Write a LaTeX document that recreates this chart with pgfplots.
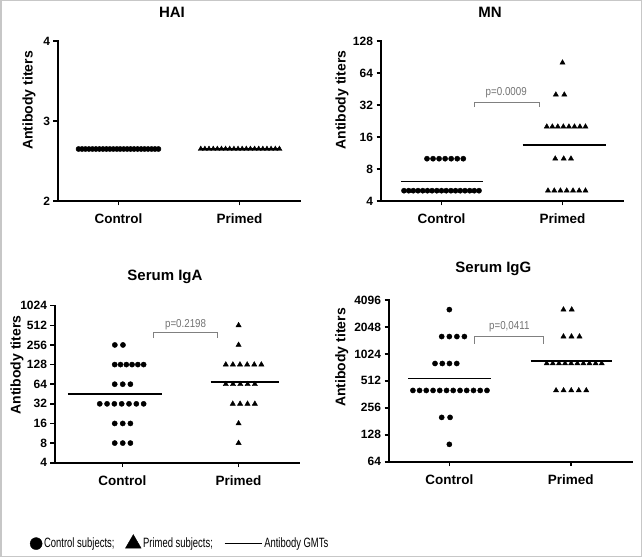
\documentclass[border=0pt]{standalone}
\usepackage{fontspec}
\setmainfont{Liberation Sans}
\usepackage{graphicx}
\usepackage{pgfplots}
\pgfplotsset{compat=1.18}
\pgfplotsset{
 panel/.style={
  scale only axis,
  axis x line*=bottom, axis y line*=left,
  x axis line style={-}, y axis line style={-},
  tick style={black, line width=1.6pt},
  major tick length=4.5pt,
  tick align=outside,
  xmin=-0.5, xmax=1.5,
  xtick={0,1}, xticklabels={Control,Primed},
  x tick label style={font=\bfseries\fontsize{13.5}{15}\selectfont, yshift=-5pt},
  y tick label style={font=\bfseries\fontsize{12}{13}\selectfont},
  ylabel={Antibody titers},
  ylabel style={font=\bfseries\fontsize{14}{16}\selectfont, anchor=center},
  title style={font=\bfseries\fontsize{15}{17}\selectfont, anchor=center},
  clip=false,
  /pgf/number format/assume math mode=true,
 },
 ctrl/.style={only marks, mark=*, mark size=2.6pt, black, mark options={line width=0.4pt}},
 prim/.style={only marks, mark=triangle*, mark size=3pt, black, mark options={line width=0.4pt}},
 gmt/.style={black, line width=1.7pt, no marks},
 br/.style={gray, line width=0.7pt, no marks},
 gmtleg/.style={legend image code/.code={\draw[black, line width=1.3pt] (0pt,0pt) -- (37pt,0pt);}},
}
\tikzset{pv/.style={gray!90!black, font=\fontsize{11.5}{12}\selectfont},
  axl/.style={black, line width=2pt, line cap=rect}}
\begin{document}
\begin{tikzpicture}
\path[use as bounding box] (0pt,0pt) rectangle (643pt,558pt);
\draw[black!22, line width=1.5pt] (0.75pt,1.5pt) rectangle (641.5pt,557.25pt);

% HAI
\begin{axis}[panel, at={(58pt,357pt)}, anchor=south west, width=242pt, height=160pt,
  ymin=2, ymax=4, ytick={2,3,4},
  title={HAI}, title style={at={(axis description cs:0.5,1)}, yshift=23pt, xshift=-7pt},
  ylabel style={at={(axis description cs:-0.12,0.628)}}]
\draw[axl] (rel axis cs:0,1) -- (rel axis cs:0,0) -- (rel axis cs:1,0);
\addplot[gmt] coordinates {(-0.33,2.65) (0.33,2.65)};
\addplot[gmt] coordinates {(0.68,2.65) (1.33,2.65)};
\addplot[ctrl] coordinates {(-0.33,2.65)(-0.301,2.65)(-0.273,2.65)(-0.244,2.65)(-0.215,2.65)(-0.187,2.65)(-0.158,2.65)(-0.129,2.65)(-0.100,2.65)(-0.072,2.65)(-0.043,2.65)(-0.014,2.65)(0.014,2.65)(0.043,2.65)(0.072,2.65)(0.100,2.65)(0.129,2.65)(0.158,2.65)(0.187,2.65)(0.215,2.65)(0.244,2.65)(0.273,2.65)(0.301,2.65)(0.33,2.65)};
\addplot[prim] coordinates {(0.68,2.65)(0.714,2.65)(0.748,2.65)(0.783,2.65)(0.817,2.65)(0.851,2.65)(0.885,2.65)(0.919,2.65)(0.954,2.65)(0.988,2.65)(1.022,2.65)(1.056,2.65)(1.090,2.65)(1.125,2.65)(1.159,2.65)(1.193,2.65)(1.227,2.65)(1.261,2.65)(1.296,2.65)(1.33,2.65)};
\end{axis}

% MN
\begin{axis}[panel, at={(381pt,357pt)}, anchor=south west, width=242pt, height=160pt,
  ymode=log, log basis y=2, ymin=4, ymax=128,
  ytick={4,8,16,32,64,128}, yticklabels={4,8,16,32,64,128},
  title={MN}, title style={at={(axis description cs:0.5,1)}, yshift=23pt, xshift=-12pt},
  ylabel style={at={(axis description cs:-0.161,0.631)}}]
\draw[axl] (rel axis cs:0,1) -- (rel axis cs:0,0) -- (rel axis cs:1,0);
\addplot[gmt] coordinates {(-0.336,6.1) (0.344,6.1)};
\addplot[gmt] coordinates {(0.67,13.4) (1.36,13.4)};
\addplot[ctrl] coordinates {(-0.12,10)(-0.07,10)(-0.02,10)(0.03,10)(0.08,10)(0.13,10)(0.18,10)
 (-0.31,5)(-0.271,5)(-0.233,5)(-0.194,5)(-0.155,5)(-0.116,5)(-0.078,5)(-0.039,5)(0,5)(0.039,5)(0.078,5)(0.116,5)(0.155,5)(0.194,5)(0.233,5)(0.271,5)(0.31,5)};
\addplot[prim] coordinates {(1,80)(0.945,40)(1.015,40)
 (0.87,20)(0.916,20)(0.961,20)(1.007,20)(1.053,20)(1.099,20)(1.144,20)(1.19,20)
 (0.94,10)(1.01,10)(1.07,10)
 (0.88,5)(0.932,5)(0.983,5)(1.035,5)(1.087,5)(1.138,5)(1.19,5)};
\addplot[br] coordinates {(0.275,30.6) (0.275,33.6) (0.806,33.6) (0.806,30.6)};
\node[pv] at (axis cs:0.535,41.5) {\scalebox{0.85}[1]{p=0.0009}};
\end{axis}

% Serum IgA
\begin{axis}[panel, at={(55pt,95.3pt)}, anchor=south west, width=244pt, height=157pt,
  xmin=-0.58, xmax=1.52,
  ymode=log, log basis y=2, ymin=4, ymax=1024,
  ytick={4,8,16,32,64,128,256,512,1024}, yticklabels={4,8,16,32,64,128,256,512,1024},
  title={Serum IgA}, title style={at={(axis description cs:0.5,1)}, yshift=22.7pt, xshift=-12pt},
  ylabel style={at={(axis description cs:-0.156,0.622)}},
  legend columns=3,
  legend style={at={(axis description cs:-0.115,-0.511)}, anchor=west, draw=none, fill=none,
    font=\fontsize{13.5}{14}\selectfont, /tikz/every even column/.append style={column sep=9pt}},
  ]
\draw[axl] (rel axis cs:0,1) -- (rel axis cs:0,0) -- (rel axis cs:1,0);
\addplot[gmt, forget plot] coordinates {(-0.47,45.3) (0.34,45.3)};
\addplot[gmt, forget plot] coordinates {(0.76,68.8) (1.35,68.8)};
\addplot[ctrl, forget plot] coordinates {(-0.065,256)(0.005,256)
 (-0.066,128)(-0.016,128)(0.034,128)(0.083,128)(0.133,128)(0.183,128)
 (-0.066,64)(0.003,64)(0.069,64)
 (-0.195,32)(-0.132,32)(-0.069,32)(-0.006,32)(0.057,32)(0.12,32)(0.183,32)
 (-0.066,16)(0.003,16)(0.069,16)
 (-0.066,8)(0.003,8)(0.069,8)};
\addplot[prim, forget plot] coordinates {(1,512)(1,256)
 (0.89,128)(0.951,128)(1.012,128)(1.074,128)(1.135,128)(1.196,128)
 (0.89,64)(0.952,64)(1.015,64)(1.078,64)(1.14,64)
 (0.95,32)(1.013,32)(1.077,32)(1.14,32)
 (1,16)(1,8)};
\addplot[br, forget plot] coordinates {(0.27,326) (0.27,397) (0.817,397) (0.817,326)};
\node[pv] at (axis cs:0.544,522) {\scalebox{0.85}[1]{p=0.2198}};
\addlegendimage{only marks, mark=*, mark size=6pt, black, mark options={line width=0.4pt}}
\addlegendentry{\scalebox{0.70}[1]{Control subjects;}}
\addlegendimage{only marks, mark=triangle*, mark size=9pt, black, mark options={line width=0.4pt}}
\addlegendentry{\scalebox{0.70}[1]{Primed subjects;}}
\addlegendimage{gmtleg}
\addlegendentry{\scalebox{0.70}[1]{Antibody GMTs}}
\end{axis}

% Serum IgG
\begin{axis}[panel, at={(389pt,96.3pt)}, anchor=south west, width=242.7pt, height=161.7pt,
  xmin=-0.497, xmax=1.502,
  ymode=log, log basis y=2, ymin=64, ymax=4096,
  ytick={64,128,256,512,1024,2048,4096}, yticklabels={64,128,256,512,1024,2048,4096},
  title={Serum IgG}, title style={at={(axis description cs:0.5,1)}, yshift=25pt, xshift=-17pt},
  ylabel style={at={(axis description cs:-0.195,0.644)}}]
\draw[axl] (rel axis cs:0,1) -- (rel axis cs:0,0) -- (rel axis cs:1,0);
\addplot[gmt] coordinates {(-0.34,546) (0.34,546)};
\addplot[gmt] coordinates {(0.67,860) (1.34,860)};
\addplot[ctrl] coordinates {(0,3200)
 (-0.063,1600)(0,1600)(0.062,1600)(0.124,1600)
 (-0.118,800)(-0.058,800)(0.001,800)(0.061,800)
 (-0.30,400)(-0.245,400)(-0.19,400)(-0.134,400)(-0.079,400)(-0.023,400)(0.032,400)(0.088,400)(0.143,400)(0.199,400)(0.254,400)(0.31,400)
 (-0.063,200)(0.006,200)
 (0,100)};
\addplot[prim] coordinates {(0.94,3200)(1.008,3200)
 (0.94,1600)(1.006,1600)(1.072,1600)
 (0.802,800)(0.852,800)(0.903,800)(0.953,800)(1.003,800)(1.054,800)(1.104,800)(1.154,800)(1.205,800)(1.255,800)
 (0.879,400)(0.941,400)(1.004,400)(1.066,400)(1.128,400)};
\addplot[br] coordinates {(0.203,1323) (0.203,1620) (0.774,1620) (0.774,1323)};
\node[pv] at (axis cs:0.494,2048) {\scalebox{0.85}[1]{p=0,0411}};
\end{axis}
\end{tikzpicture}
\end{document}
